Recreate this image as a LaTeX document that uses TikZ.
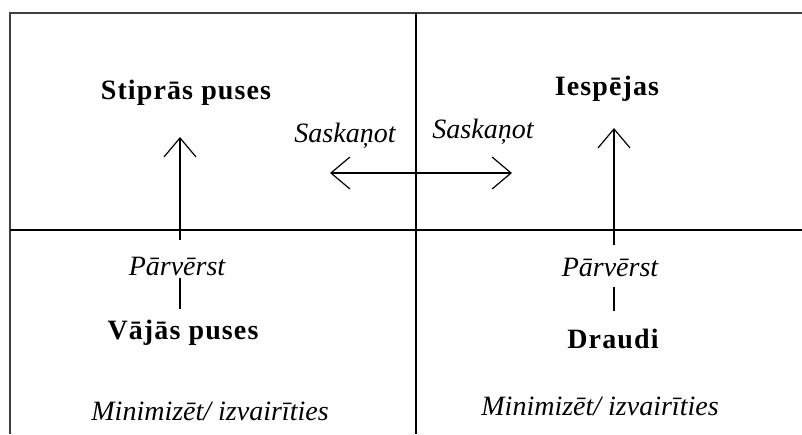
\documentclass[tikz,border=0pt]{standalone}
\usepackage{fontspec}
\setmainfont{Liberation Serif}
\newfontfamily\headfont[LetterSpace=4]{Liberation Serif}
\usetikzlibrary{arrows.meta}
\begin{document}
\begin{tikzpicture}[x=1pt,y=-1pt,
  frame/.style={line width=2pt,draw=black!75},
  divider/.style={line width=1.5pt},
  link/.style={line width=1.3pt},
  openvee/.tip={Straight Barb[length=19pt,width=32pt,line width=1.2pt]},
  title/.style={anchor=base,font=\fontsize{28}{32}\headfont\bfseries},
  note/.style={anchor=base,font=\fontsize{28}{32}\selectfont\itshape}]
  \useasboundingbox (0,0) rectangle (802,434);
  % frame and quadrant dividers
  \draw[frame] (10,434) -- (10,13) -- (802,13);
  \draw[divider] (416,13) -- (416,434);
  \draw[divider] (10,230) -- (802,230);
  % quadrant titles
  \node[title] (str) at (186,99) {Stiprās puses};
  \node[title] (opp) at (607,95) {Iespējas};
  \node[title] (wea) at (183,339) {Vājās puses};
  \node[title] (thr) at (613,348) {Draudi};
  % labels
  \node[note] (sasL) at (345,142) {Saskaņot};
  \node[note] (sasR) at (483,138) {Saskaņot};
  \node[note] (parL) at (177,275) {Pārvērst};
  \node[note] (parR) at (610,276) {Pārvērst};
  \node[note] (minL) at (210,420) {Minimizēt/ izvairīties};
  \node[note] (minR) at (600,415) {Minimizēt/ izvairīties};
  % connector end points
  \coordinate (aLtop) at (180,137);
  \coordinate (aLbot) at (180,240);
  \coordinate (bLtop) at (180,278);
  \coordinate (bLbot) at (180,309);
  \coordinate (aRtop) at (614,128);
  \coordinate (aRbot) at (614,245);
  \coordinate (bRtop) at (614,287);
  \coordinate (bRbot) at (614,311);
  \coordinate (hL) at (330,173);
  \coordinate (hR) at (512,173);
  % connectors
  \draw[link,-openvee] (aLbot) -- (aLtop);
  \draw[link] (bLtop) -- (bLbot);
  \draw[link,-openvee] (aRbot) -- (aRtop);
  \draw[link] (bRtop) -- (bRbot);
  \draw[link,openvee-openvee] (hL) -- (hR);
\end{tikzpicture}
\end{document}
